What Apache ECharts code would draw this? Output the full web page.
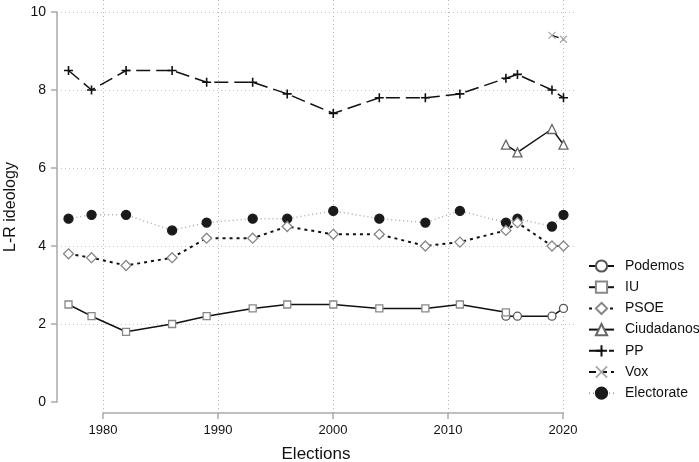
<!DOCTYPE html>
<html>
<head>
<meta charset="utf-8">
<script src="https://cdn.jsdelivr.net/npm/echarts@6/dist/echarts.min.js"></script>
<style>
  html, body { margin: 0; padding: 0; background: #fff; }
  #chart { width: 699px; height: 462px; }
</style>
</head>
<body>
<div id="chart"></div>
<script>
// election years and party positions (L-R scale 0-10)
var years = [1977, 1979, 1982, 1986, 1989, 1993, 1996, 2000, 2004, 2008, 2011, 2015, 2016, 2019, 2020];
var iuYears = [1977, 1979, 1982, 1986, 1989, 1993, 1996, 2000, 2004, 2008, 2011, 2015];
var newYears = [2015, 2016, 2019, 2020];
var voxYears = [2019, 2020];

var podemos = [2.2, 2.2, 2.2, 2.4];
var iu = [2.5, 2.2, 1.8, 2.0, 2.2, 2.4, 2.5, 2.5, 2.4, 2.4, 2.5, 2.3];
var psoe = [3.8, 3.7, 3.5, 3.7, 4.2, 4.2, 4.5, 4.3, 4.3, 4.0, 4.1, 4.4, 4.6, 4.0, 4.0];
var ciudadanos = [6.6, 6.4, 7.0, 6.6];
var pp = [8.5, 8.0, 8.5, 8.5, 8.2, 8.2, 7.9, 7.4, 7.8, 7.8, 7.9, 8.3, 8.4, 8.0, 7.8];
var vox = [9.4, 9.3];
var electorate = [4.7, 4.8, 4.8, 4.4, 4.6, 4.7, 4.7, 4.9, 4.7, 4.6, 4.9, 4.6, 4.7, 4.5, 4.8];

var xTicks = [1980, 1990, 2000, 2010, 2020];
var yTicks = [0, 2, 4, 6, 8, 10];

function pairs(xs, ys) {
    var out = [];
    for (var i = 0; i < xs.length; i++) out.push([xs[i], ys[i]]);
    return out;
}

var font = "'Liberation Sans', Arial, Helvetica, sans-serif";
var plusPath = 'path://M0,5L10,5M5,0L5,10';
var crossPath = 'path://M0,0L10,10M10,0L0,10';

function lineSeries(name, data, opts) {
    return {
        name: name,
        type: 'line',
        xAxisIndex: 0,
        yAxisIndex: 0,
        data: data,
        symbol: opts.symbol,
        symbolSize: opts.size,
        showAllSymbol: true,
        animation: false,
        lineStyle: { color: opts.lineColor, width: opts.lineWidth || 1.5, type: opts.dash || 'solid' },
        itemStyle: { color: opts.fill, borderColor: opts.border, borderWidth: opts.borderWidth || 1.3 },
        emphasis: { disabled: true },
        z: opts.z || 2
    };
}

var chart = echarts.init(document.getElementById('chart'), null, { renderer: 'canvas' });

var option = {
    backgroundColor: '#fff',
    animation: false,
    textStyle: { fontFamily: font },
    grid: [
        { left: 57, right: 124, top: 12, bottom: 60, containLabel: false, outerBoundsMode: 'none' },
        { left: 103, right: 136, top: 0, bottom: 49, containLabel: false, outerBoundsMode: 'none' }
    ],
    xAxis: [
        {
            type: 'value', gridIndex: 0, min: 1976, max: 2021,
            axisLine: { show: false }, axisTick: { show: false },
            axisLabel: { show: false }, splitLine: { show: false },
            name: 'Elections', nameLocation: 'middle', nameGap: 44,
            nameTextStyle: { fontSize: 17, color: '#111', fontFamily: font }
        },
        {
            type: 'value', gridIndex: 1, min: xTicks[0], max: xTicks[xTicks.length - 1], interval: 10,
            axisLine: { show: true, lineStyle: { color: '#aaa', width: 1.5 } },
            axisTick: { show: true, length: 6, lineStyle: { color: '#aaa', width: 1.5 } },
            axisLabel: { color: '#111', fontSize: 13, margin: 11, fontFamily: font,
                formatter: function (v) { return String(v); } },
            splitLine: { show: true, showMinLine: true, showMaxLine: true,
                lineStyle: { color: '#b4b4b4', type: [1, 3], width: 1 } }
        }
    ],
    yAxis: [
        {
            type: 'value', gridIndex: 0, min: yTicks[0], max: yTicks[yTicks.length - 1], interval: 2,
            axisLine: { show: true, lineStyle: { color: '#aaa', width: 1.5 } },
            axisTick: { show: true, length: 6, lineStyle: { color: '#aaa', width: 1.5 } },
            axisLabel: { color: '#111', fontSize: 14, margin: 11, fontFamily: font },
            splitLine: { show: true, showMinLine: false, lineStyle: { color: '#c4c4c4', type: [1, 3], width: 1 } },
            name: 'L-R ideology', nameLocation: 'middle', nameGap: 38, nameRotate: 90,
            nameTextStyle: { fontSize: 16, color: '#111', fontFamily: font }
        },
        {
            type: 'value', gridIndex: 1, min: 0, max: 10,
            axisLine: { show: false }, axisTick: { show: false },
            axisLabel: { show: false }, splitLine: { show: false }
        }
    ],
    legend: {
        orient: 'vertical',
        left: 588,
        top: 259,
        padding: 0,
        itemWidth: 25,
        itemHeight: 14,
        itemGap: 7.2,
        selectedMode: false,
        textStyle: { fontSize: 14, lineHeight: 14, color: '#111', fontFamily: font, padding: [0, 0, 0, 6] },
        data: ['Podemos', 'IU', 'PSOE', 'Ciudadanos', 'PP', 'Vox', 'Electorate']
    },
    series: [
        lineSeries('Podemos', pairs(newYears, podemos), {
            symbol: 'circle', size: 8, fill: '#fff', border: '#555', lineColor: '#111'
        }),
        lineSeries('IU', pairs(iuYears, iu), {
            symbol: 'rect', size: 7, fill: '#fff', border: '#888', lineColor: '#111'
        }),
        lineSeries('PSOE', pairs(years, psoe), {
            symbol: 'diamond', size: 10, fill: '#fff', border: '#888', lineColor: '#111',
            dash: [3, 4], lineWidth: 2
        }),
        lineSeries('Ciudadanos', pairs(newYears, ciudadanos), {
            symbol: 'triangle', size: 9, fill: '#fff', border: '#666', lineColor: '#111'
        }),
        lineSeries('PP', pairs(years, pp), {
            symbol: plusPath, size: 9, fill: 'transparent', border: '#111', lineColor: '#111',
            dash: [14, 6], borderWidth: 1.6
        }),
        lineSeries('Vox', pairs(voxYears, vox), {
            symbol: crossPath, size: 7, fill: 'transparent', border: '#aaa', lineColor: '#111',
            dash: [7, 4]
        }),
        lineSeries('Electorate', pairs(years, electorate), {
            symbol: 'circle', size: 9, fill: '#1a1a1a', border: '#1a1a1a', lineColor: '#aaa',
            dash: [1, 3], lineWidth: 1.5, z: 1
        })
    ]
};

chart.setOption(option);
</script>
</body>
</html>
